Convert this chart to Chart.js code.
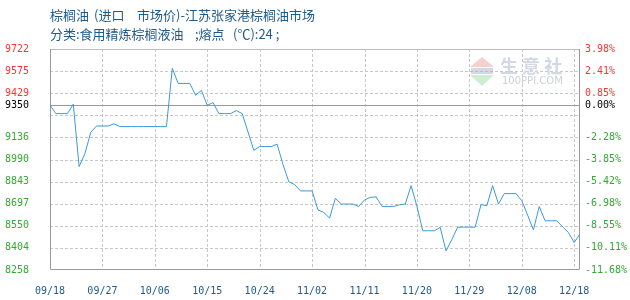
<!DOCTYPE html>
<html>
<head>
<meta charset="utf-8">
<script src="https://cdn.jsdelivr.net/npm/chart.js@4.4.0/dist/chart.umd.min.js"></script>
<style>
html, body { margin: 0; padding: 0; background: #fff; }
#wrap { width: 630px; height: 300px; }
</style>
</head>
<body>
<div id="wrap"><canvas id="priceChart" width="630" height="300"></canvas></div>
<script>
// Palm oil (imported, market price) - Zhangjiagang, one point per trading day
const dateLabels = ['09/18', '09/27', '10/06', '10/15', '10/24', '11/02', '11/11', '11/20', '11/29', '12/08', '12/18'];
const labelStep = 9;

const prices = [
    9350, 9294, 9294, 9294, 9357, 8943, 9030, 9170, 9212, 9212,
    9212, 9227, 9208, 9208, 9208, 9208, 9208, 9208, 9208, 9208,
    9208, 9594, 9494, 9494, 9494, 9416, 9447, 9349, 9367, 9294,
    9294, 9294, 9314, 9294, 9172, 9050, 9076, 9076, 9076, 9092,
    8957, 8843, 8824, 8782, 8782, 8782, 8657, 8639, 8602, 8733,
    8695, 8695, 8695, 8679, 8722, 8739, 8742, 8679, 8679, 8679,
    8690, 8695, 8817, 8680, 8518, 8518, 8518, 8540, 8384, 8460,
    8542, 8542, 8542, 8542, 8691, 8684, 8817, 8695, 8764, 8764,
    8764, 8717, 8622, 8524, 8679, 8584, 8584, 8584, 8544, 8507,
    8440, 8496
];

const basePrice = 9350;
const yMin = 8258;
const yMax = 9722;
const yTicks = [9722, 9575.6, 9429.2, 9350, 9282.8, 9136.4, 8990, 8843.6, 8697.2, 8550.8, 8404.4, 8258];
const priceTickLabels = ['9722', '9575', '9429', '9350', '', '9136', '8990', '8843', '8697', '8550', '8404', '8258'];
const pctTickLabels = ['3.98%', '2.41%', '0.85%', '0.00%', '', '-2.28%', '-3.85%', '-5.42%', '-6.98%', '-8.55%', '-10.11%', '-11.68%'];

// title pieces, spaced like the original bitmap font
const titleParts = [['棕榈油', 50], ['(进口', 94], ['市场价)-江苏张家港棕榈油市场', 137]];
const subTitleParts = [['分类:食用精炼棕榈液油', 50], [';熔点', 195], ['(℃):24 ;', 233]];

const monoFont = { family: '"DejaVu Sans Mono", "Liberation Mono", monospace', size: 10 };

function tickColor(c) {
    const v = c.tick.value;
    if (v === basePrice) return '#000000';
    return v > basePrice ? '#ff3333' : '#33aa33';
}

// dashed grid, frame, base line, titles and watermark
const gridPlugin = {
    id: 'gridPlugin',
    beforeDatasetsDraw(chart) {
        const { ctx, chartArea: a, scales } = chart;
        const x = scales.x, y = scales.y;
        ctx.save();
        ctx.lineWidth = 1;
        ctx.strokeStyle = '#c8c8c8';
        ctx.setLineDash([3, 2]);
        yTicks.forEach(v => {
            if (v === basePrice || v === yMin) return;
            const py = Math.round(y.getPixelForValue(v)) + 0.5;
            ctx.beginPath();
            ctx.moveTo(a.left, py);
            ctx.lineTo(a.right, py);
            ctx.stroke();
        });
        dateLabels.forEach((_, i) => {
            if (i === 0) return;
            const px = Math.round(x.getPixelForValue(i * labelStep)) + 0.5;
            ctx.beginPath();
            ctx.moveTo(px, a.top);
            ctx.lineTo(px, a.bottom);
            ctx.stroke();
        });
        ctx.setLineDash([]);
        const top = Math.round(y.getPixelForValue(yMax)) + 0.5;
        ctx.strokeStyle = '#bbbbbb';
        ctx.beginPath();
        ctx.moveTo(a.left, top);
        ctx.lineTo(a.right, top);
        ctx.stroke();
        ctx.strokeStyle = '#999999';
        const basePx = Math.round(y.getPixelForValue(basePrice)) + 0.5;
        const left = Math.round(a.left) + 0.5;
        const right = Math.round(a.right) - 0.5;
        const bottom = Math.round(a.bottom) - 0.5;
        ctx.beginPath();
        ctx.moveTo(a.left, basePx);
        ctx.lineTo(a.right, basePx);
        ctx.moveTo(left, a.top);
        ctx.lineTo(left, bottom);
        ctx.lineTo(right, bottom);
        ctx.lineTo(right, a.top);
        ctx.stroke();
        ctx.restore();
    },
    afterDraw(chart) {
        const ctx = chart.ctx;
        ctx.save();
        ctx.fillStyle = '#1f5a8c';
        ctx.font = '13px "Noto Sans CJK SC", sans-serif';
        ctx.textBaseline = 'middle';
        titleParts.forEach(([t, px]) => ctx.fillText(t, px, 15));
        subTitleParts.forEach(([t, px]) => ctx.fillText(t, px, 34));
        // watermark
        ctx.globalAlpha = 0.5;
        ctx.fillStyle = '#f2a0a0';
        ctx.beginPath();
        ctx.moveTo(482, 57);
        ctx.lineTo(494, 67);
        ctx.lineTo(470, 67);
        ctx.closePath();
        ctx.fill();
        ctx.fillStyle = '#a0dca0';
        ctx.beginPath();
        ctx.moveTo(470, 75);
        ctx.lineTo(494, 75);
        ctx.lineTo(482, 86);
        ctx.closePath();
        ctx.fill();
        ctx.fillStyle = '#a8b4c8';
        ctx.fillRect(471, 68, 22, 6);
        ctx.globalAlpha = 1;
        ctx.fillStyle = '#d2d8e4';
        ctx.font = 'bold 18px "Noto Sans CJK SC", sans-serif';
        ctx.fillText('生 意 社', 500, 66);
        ctx.fillStyle = '#cdd0da';
        ctx.font = '10px "DejaVu Sans", sans-serif';
        ctx.fillText('100PPI.COM', 502, 81);
        ctx.restore();
    }
};

const ctx = document.getElementById('priceChart').getContext('2d');
new Chart(ctx, {
    type: 'line',
    data: {
        datasets: [{
            label: '棕榈油',
            data: prices.map((v, i) => ({ x: i, y: v })),
            borderColor: '#3a9ad9',
            borderWidth: 1,
            pointRadius: 0,
            tension: 0,
            fill: false
        }]
    },
    options: {
        responsive: false,
        animation: false,
        layout: { padding: { left: 5, top: 49, right: 0, bottom: 0 } },
        plugins: {
            legend: { display: false },
            tooltip: { enabled: false }
        },
        scales: {
            x: {
                type: 'linear',
                min: 0,
                max: prices.length - 1,
                grid: { display: false, drawTicks: false, tickLength: 0 },
                border: { display: false },
                afterBuildTicks: axis => { axis.ticks = dateLabels.map((_, i) => ({ value: i * labelStep })); },
                afterFit: axis => { axis.height = 30; },
                ticks: {
                    autoSkip: false,
                    maxRotation: 0,
                    padding: 15,
                    color: '#1f5a8c',
                    font: monoFont,
                    callback: v => dateLabels[v / labelStep]
                }
            },
            y: {
                position: 'left',
                min: yMin,
                max: yMax,
                grid: { display: false, drawTicks: false, tickLength: 0 },
                border: { display: false },
                afterBuildTicks: axis => { axis.ticks = yTicks.map(v => ({ value: v })); },
                afterFit: axis => { axis.width = 45; },
                ticks: {
                    autoSkip: false,
                    crossAlign: 'far',
                    color: tickColor,
                    font: monoFont,
                    callback: v => priceTickLabels[yTicks.indexOf(v)]
                }
            },
            y2: {
                position: 'right',
                min: yMin,
                max: yMax,
                grid: { display: false, drawTicks: false, tickLength: 0 },
                border: { display: false },
                afterBuildTicks: axis => { axis.ticks = yTicks.map(v => ({ value: v })); },
                afterFit: axis => { axis.width = 50; },
                ticks: {
                    autoSkip: false,
                    padding: 5,
                    color: tickColor,
                    font: monoFont,
                    callback: v => pctTickLabels[yTicks.indexOf(v)]
                }
            }
        }
    },
    plugins: [gridPlugin]
});
</script>
</body>
</html>
